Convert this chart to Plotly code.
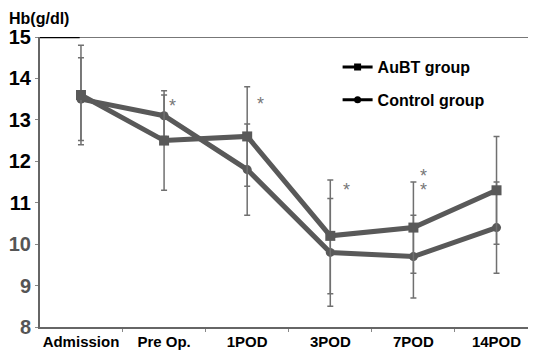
import plotly.graph_objects as go

categories = ["Admission", "Pre Op.", "1POD", "3POD", "7POD", "14POD"]
aubt = [13.6, 12.5, 12.6, 10.2, 10.4, 11.3]
aubt_up = [1.2, 1.2, 1.2, 1.35, 1.1, 1.3]
aubt_down = [1.2, 1.2, 1.2, 1.4, 1.1, 1.3]
control = [13.5, 13.1, 11.8, 9.8, 9.7, 10.4]
control_up = [1.0, 0.5, 1.1, 1.3, 1.0, 1.1]
control_down = [1.0, 0.5, 1.1, 1.3, 1.0, 1.1]
star_x = [1.1, 2.16, 3.19, 4.12, 4.12]
star_y = [13.45, 13.5, 11.43, 11.77, 11.42]
y_ticks = [8, 9, 10, 11, 12, 13, 14, 15]

FONT = "Liberation Sans, Arial, Helvetica, sans-serif"
GRAY = "#595959"
xs = list(range(len(categories)))

fig = go.Figure()
fig.add_trace(go.Scatter(
    x=xs, y=control, mode="lines+markers", showlegend=False,
    line=dict(color=GRAY, width=5),
    marker=dict(symbol="circle", size=9, color=GRAY),
    error_y=dict(type="data", symmetric=False, array=control_up, arrayminus=control_down,
                 color="#707070", thickness=1.5, width=3),
))
fig.add_trace(go.Scatter(
    x=xs, y=aubt, mode="lines+markers", showlegend=False,
    line=dict(color=GRAY, width=5),
    marker=dict(symbol="square", size=10, color=GRAY),
    error_y=dict(type="data", symmetric=False, array=aubt_up, arrayminus=aubt_down,
                 color="#707070", thickness=1.5, width=3),
))
# legend entries
fig.add_trace(go.Scatter(x=[None], y=[None], mode="lines+markers", name="AuBT group",
                         legendgroup="a",
                         line=dict(color="black", width=3),
                         marker=dict(symbol="square", size=7, color="black")))
fig.add_trace(go.Scatter(x=[None], y=[None], mode="lines+markers", name="Control group",
                         legendgroup="b",
                         line=dict(color="black", width=3),
                         marker=dict(symbol="circle", size=7, color="black")))

for sx, sy in zip(star_x, star_y):
    fig.add_annotation(x=sx, y=sy, text="*", showarrow=False, yshift=-5,
                       font=dict(family=FONT, size=18, color="#777777"))

fig.add_annotation(xref="paper", yref="paper", x=-0.066, y=1.065, xanchor="left", yanchor="middle",
                   text="Hb(g/dl)", showarrow=False,
                   font=dict(family=FONT, size=16, color="black", weight="bold"))

# top border lines
fig.add_shape(type="line", xref="paper", yref="y", x0=0, x1=1, y0=15, y1=15,
              line=dict(color="#777777", width=2))
fig.add_shape(type="line", xref="paper", yref="y", x0=0, x1=0.08, y0=15, y1=15,
              line=dict(color="black", width=2.5))

tick_text = [("<span style='color:#555555'>%d</span>" % v) if v <= 10 else str(v) for v in y_ticks]

fig.update_layout(
    width=528, height=342,
    margin=dict(l=32, r=0, t=29, b=22.5),
    paper_bgcolor="white", plot_bgcolor="white",
    font=dict(family=FONT, color="black"),
    legend=dict(x=0.6, y=0.955, xanchor="left", yanchor="top",
                font=dict(family=FONT, size=16, color="black", weight="bold"),
                bgcolor="rgba(0,0,0,0)", tracegroupgap=9, itemwidth=30,
                traceorder="grouped"),
    xaxis=dict(range=[-0.493, 5.475], tickvals=xs, ticktext=categories,
               showgrid=False, zeroline=False, showline=True, linecolor="#666666", linewidth=2,
               ticks="", tickfont=dict(family=FONT, size=15, color="black", weight="bold"),
               minor=dict(tickmode="array", tickvals=[0.5, 1.5, 2.5, 3.5, 4.5], ticks="outside",
                          ticklen=3, tickcolor="#888888", tickwidth=1)),
    yaxis=dict(range=[8, 15], tickvals=y_ticks, ticktext=tick_text,
               showgrid=False, zeroline=False, showline=True, linecolor="#666666", linewidth=2,
               ticks="outside", ticklen=3, tickcolor="#888888",
               tickfont=dict(family=FONT, size=20, color="black", weight="bold")),
)

fig.write_html("out.html")
